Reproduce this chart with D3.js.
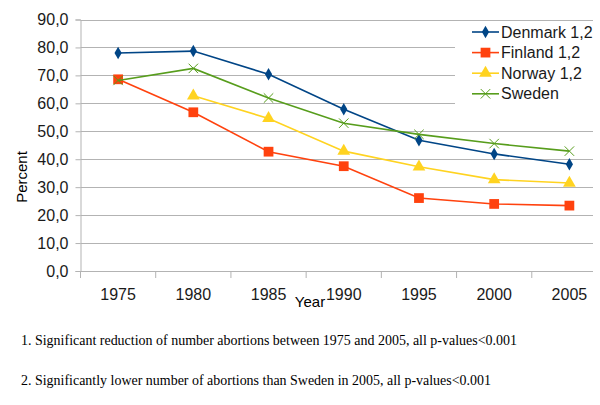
<!DOCTYPE html>
<html><head><meta charset="utf-8">
<script src="https://cdn.jsdelivr.net/npm/d3@7"></script>
<style>body{margin:0;background:#fff}svg{display:block}</style>
</head><body>
<svg id="c" width="600" height="405"></svg>
<script>
const years = ["1975","1980","1985","1990","1995","2000","2005"];
const denmark = [78.0, 78.7, 70.4, 57.9, 46.8, 41.9, 38.2];
const finland = [68.6, 56.8, 42.7, 37.5, 26.1, 24.0, 23.4];
const norway  = [null, 62.7, 54.6, 42.9, 37.3, 32.7, 31.5];
const sweden  = [68.2, 72.5, 61.9, 52.9, 48.9, 45.6, 42.9];
const seriesNames = ["Denmark 1,2","Finland 1,2","Norway 1,2","Sweden"];
const yTicks = [0,10,20,30,40,50,60,70,80,90];
const footnotes = [
  "1. Significant reduction of number abortions between 1975 and 2005, all p-values<0.001",
  "2. Significantly lower number of abortions than Sweden in 2005, all p-values<0.001"
];

const series = [
  {name: seriesNames[0], values: denmark, color: "#004586", shape: "diamond"},
  {name: seriesNames[1], values: finland, color: "#ff420e", shape: "square"},
  {name: seriesNames[2], values: norway,  color: "#ffd320", shape: "triangle"},
  {name: seriesNames[3], values: sweden,  color: "#579d1c", shape: "cross"}
];

const svg = d3.select("#c");
const pLeft = 80.5, pRight = 593, pTop = 19.5, pBottom = 271;
const x = d3.scaleBand().domain(years).range([pLeft, 607]);
const y = d3.scaleLinear().domain([0, 90]).range([pBottom, pTop]);
const font = "'Liberation Sans', Arial, sans-serif";

// grid
svg.append("g").selectAll("line").data(yTicks).join("line")
  .attr("x1", pLeft).attr("x2", pRight)
  .attr("y1", d => Math.round(y(d)) + 0.5).attr("y2", d => Math.round(y(d)) + 0.5)
  .attr("stroke", "#b3b3b3").attr("stroke-width", 1);

// y axis
const ya = svg.append("g").attr("transform", `translate(${pLeft},0)`)
  .call(d3.axisLeft(y).tickValues(yTicks).tickSize(5).tickPadding(7)
    .tickFormat(d => d3.format(".1f")(d).replace(".", ",")));
ya.select(".domain").attr("stroke", "#b3b3b3");
ya.selectAll(".tick line").attr("stroke", "#b3b3b3");
ya.selectAll(".tick text").attr("font-family", font).attr("font-size", 16).attr("fill", "#1a1a1a");

// x axis
const xa = svg.append("g").attr("transform", `translate(0,${pBottom})`);
xa.append("line").attr("x1", pLeft).attr("x2", pRight).attr("y1", 0.5).attr("y2", 0.5).attr("stroke", "#b3b3b3");
xa.selectAll("line.tk").data(years).join("line").attr("class", "tk")
  .attr("x1", d => x(d)).attr("x2", d => x(d)).attr("y1", 0).attr("y2", 7)
  .attr("stroke", "#b3b3b3");
xa.selectAll("text").data(years).join("text")
  .attr("x", d => x(d) + x.bandwidth() / 2).attr("y", 29)
  .attr("text-anchor", "middle").attr("font-family", font).attr("font-size", 16)
  .attr("fill", "#1a1a1a")
  .text(d => d);

// axis titles
svg.append("text").attr("transform", "translate(27,177) rotate(-90)")
  .attr("text-anchor", "middle").attr("font-family", font).attr("font-size", 15).text("Percent");
svg.append("text").attr("x", 310).attr("y", 307)
  .attr("text-anchor", "middle").attr("font-family", font).attr("font-size", 15).text("Year");

// lines
const cx = d => x(d) + x.bandwidth() / 2;
const line = d3.line().defined(d => d.v != null).x(d => cx(d.year)).y(d => y(d.v));
function symbolPath(shape) {
  if (shape === "diamond") return d3.symbol(d3.symbolDiamond, 45)();
  if (shape === "square") return d3.symbol(d3.symbolSquare, 95)();
  if (shape === "triangle") return d3.symbol(d3.symbolTriangle, 70)();
  return d3.symbol(d3.symbolTimes, 60)();
}
series.forEach(s => {
  const pts = years.map((yr, i) => ({year: yr, v: s.values[i]}));
  svg.append("path").datum(pts).attr("d", line)
    .attr("fill", "none").attr("stroke", s.color).attr("stroke-width", 1.6);
  svg.append("g").selectAll("path").data(pts.filter(p => p.v != null)).join("path")
    .attr("transform", p => `translate(${cx(p.year)},${y(p.v)})`)
    .attr("d", symbolPath(s.shape))
    .attr("fill", s.shape === "cross" ? "none" : s.color)
    .attr("stroke", s.shape === "cross" ? s.color : "none")
    .attr("stroke-width", 1);
});

// legend
const lg = svg.append("g");
lg.append("rect").attr("x", 455).attr("y", 22).attr("width", 145).attr("height", 88).attr("fill", "#fff");
series.forEach((s, i) => {
  const yy = 32 + i * 20.6;
  lg.append("line").attr("x1", 472).attr("x2", 499).attr("y1", yy).attr("y2", yy)
    .attr("stroke", s.color).attr("stroke-width", 1.6);
  lg.append("path").attr("transform", `translate(485.5,${yy})`).attr("d", symbolPath(s.shape))
    .attr("fill", s.shape === "cross" ? "none" : s.color)
    .attr("stroke", s.shape === "cross" ? s.color : "none");
  lg.append("text").attr("x", 501).attr("y", yy + 5.5).attr("font-family", font)
    .attr("font-size", 16).attr("fill", "#1a1a1a").text(s.name);
});

// footnotes
const serif = "'Liberation Serif', 'Times New Roman', serif";
svg.append("text").attr("x", 21).attr("y", 345).attr("font-family", serif).attr("font-size", 14)
  .attr("textLength", 496).attr("lengthAdjust", "spacingAndGlyphs").text(footnotes[0]);
svg.append("text").attr("x", 21).attr("y", 385).attr("font-family", serif).attr("font-size", 14)
  .attr("textLength", 470).attr("lengthAdjust", "spacingAndGlyphs").text(footnotes[1]);
</script>
</body></html>
